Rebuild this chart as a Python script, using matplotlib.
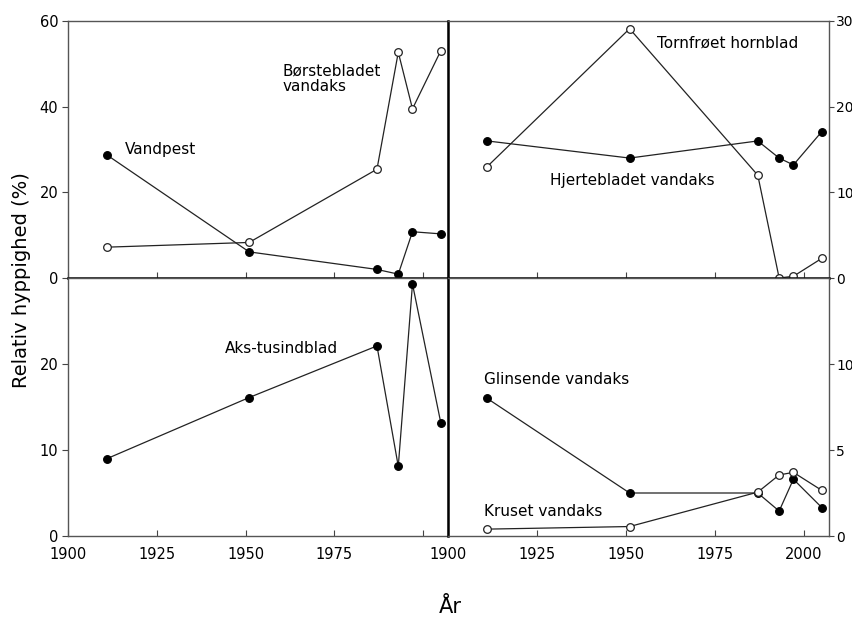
import matplotlib
matplotlib.use('Agg')
import matplotlib.pyplot as plt

# survey years
years = [1911, 1951, 1987, 1993, 1997, 2005]

# top left (%)
vandpest = [28.7, 6.1, 2.0, 0.9, 10.8, 10.3]
borstebladet = [7.2, 8.3, 25.4, 52.7, 39.5, 53.1]
# top right (%)
hjertebladet = [16.0, 14.0, 16.0, 14.0, 13.2, 17.1]
tornfroet = [13.0, 29.1, 12.0, 0.0, 0.2, 2.3]
# bottom left (%)
aks_tusindblad = [9.0, 16.1, 22.1, 8.1, 29.3, 13.1]
# bottom right (%)
glinsende = [8.0, 2.5, 2.5, 1.45, 3.3, 1.65]
kruset = [0.4, 0.55, 2.55, 3.55, 3.7, 2.65]

xticks = [1900, 1925, 1950, 1975, 2000]

plt.rcParams['font.family'] = 'DejaVu Sans'
plt.rcParams['font.size'] = 10.5

fig = plt.figure(figsize=(8.53, 6.18), dpi=100)

x0, xm, x1 = 68 / 853, 448 / 853, 829 / 853
yb, ym, yt = 1 - 536 / 618, 1 - 278 / 618, 1 - 21 / 618

ax_tl = fig.add_axes([x0, ym, xm - x0, yt - ym])
ax_tr = fig.add_axes([xm, ym, x1 - xm, yt - ym])
ax_bl = fig.add_axes([x0, yb, xm - x0, ym - yb])
ax_br = fig.add_axes([xm, yb, x1 - xm, ym - yb])

line_kw = dict(color='#222222', lw=0.9, markersize=5.5, markeredgewidth=0.9)


def filled(ax, y):
    ax.plot(years, y, marker='o', markerfacecolor='black', markeredgecolor='black', **line_kw)


def hollow(ax, y):
    ax.plot(years, y, marker='o', markerfacecolor='white', markeredgecolor='#222222', **line_kw)


filled(ax_tl, vandpest)
hollow(ax_tl, borstebladet)
filled(ax_tr, hjertebladet)
hollow(ax_tr, tornfroet)
filled(ax_bl, aks_tusindblad)
filled(ax_br, glinsende)
hollow(ax_br, kruset)

ax_tl.set_ylim(0, 60)
ax_tr.set_ylim(0, 30)
ax_bl.set_ylim(0, 30)
ax_br.set_ylim(0, 15)

ax_tl.set_yticks([0, 20, 40, 60])
ax_tr.set_yticks([0, 10, 20, 30])
ax_bl.set_yticks([0, 10, 20])
ax_br.set_yticks([0, 5, 10])

for ax in [ax_tl, ax_tr, ax_bl, ax_br]:
    ax.set_xlim(1900, 2007)
    ax.set_xticks(xticks)
    ax.tick_params(axis='x', direction='in', length=4, color='#444444', pad=8)
    ax.tick_params(axis='y', direction='out', length=4, color='#444444', pad=3)
    for s in ax.spines.values():
        s.set_color('#555555')
        s.set_linewidth(1.0)
    for ln in ax.lines:
        ln.set_clip_on(False)

for ax in [ax_tl, ax_tr]:
    ax.tick_params(axis='x', labelbottom=False)
for ax in [ax_tr, ax_br]:
    ax.yaxis.tick_right()
    ax.tick_params(axis='y', labelsize=10, pad=1.5, length=3.5)
    ax.spines['left'].set_color('black')
    ax.spines['left'].set_linewidth(1.8)
ax_tl.spines['bottom'].set_color('black')
ax_tl.spines['bottom'].set_linewidth(1.8)
ax_tr.spines['bottom'].set_color('black')
ax_tr.spines['bottom'].set_linewidth(1.8)

ax_bl.set_xticklabels(['1900', '1925', '1950', '1975', ''])
ax_br.set_xticklabels(['1900', '1925', '1950', '1975', '2000'])

# series labels
ax_tl.text(1916, 30, 'Vandpest', va='center', ha='left', fontsize=11)
ax_tl.text(1960.5, 46.5, 'Børstebladet\nvandaks', va='center', ha='left', linespacing=1.0, fontsize=11)
ax_tr.text(1958.8, 27.4, 'Tornfrøet hornblad', va='center', ha='left', fontsize=11)
ax_tr.text(1928.7, 11.4, 'Hjertebladet vandaks', va='center', ha='left', fontsize=11)
ax_bl.text(1944.2, 21.8, 'Aks-tusindblad', va='center', ha='left', fontsize=11)
ax_br.text(1910, 9.1, 'Glinsende vandaks', va='center', ha='left', fontsize=11)
ax_br.text(1910, 1.4, 'Kruset vandaks', va='center', ha='left', fontsize=11)

fig.text(22 / 853, 1 - 280 / 618, 'Relativ hyppighed (%)', rotation=90,
         ha='center', va='center', fontsize=14)
fig.text(450 / 853, 1 - 607 / 618, 'År', ha='center', va='center', fontsize=15)

fig.savefig('out.png', dpi=100)
